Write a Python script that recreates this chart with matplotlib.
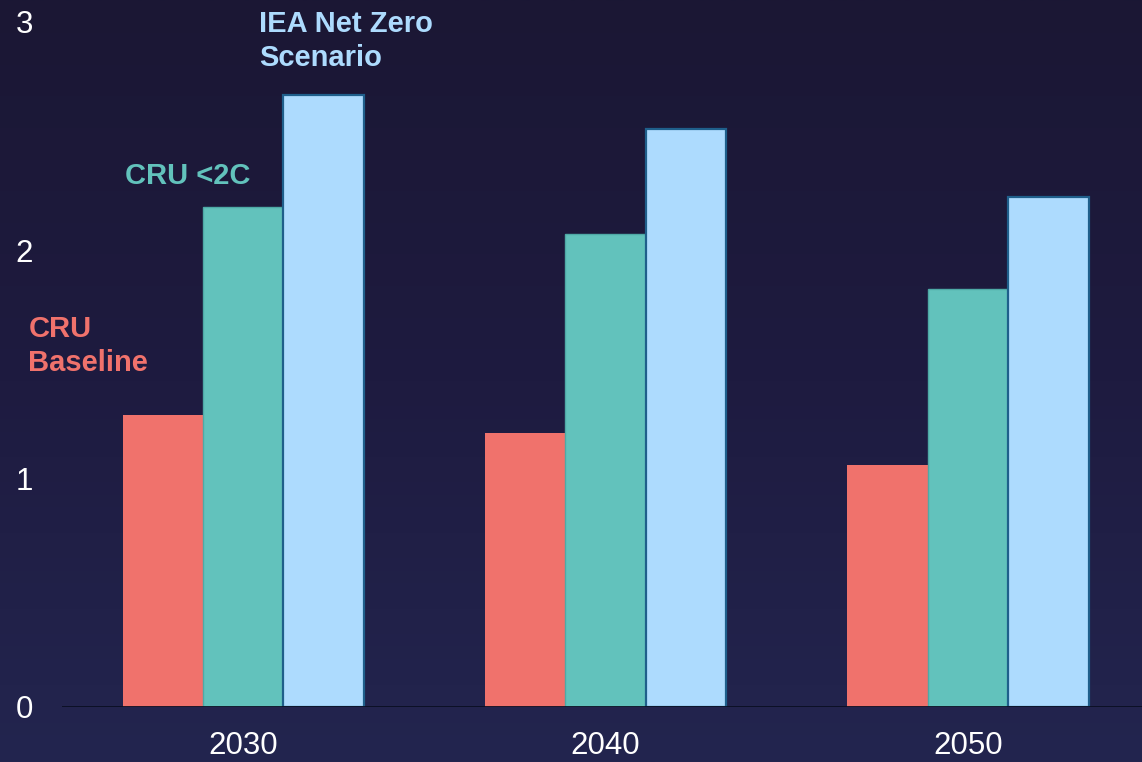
import numpy as np
import matplotlib.pyplot as plt
from matplotlib.colors import LinearSegmentedColormap

years = ['2030', '2040', '2050']
cru_baseline = [1.28, 1.20, 1.06]
cru_2c = [2.19, 2.07, 1.83]
iea_nz = [2.68, 2.53, 2.23]

red = '#F0726C'
teal = '#62C2BC'
blue = '#ADDBFE'

plt.rcParams['font.family'] = ['Liberation Sans', 'DejaVu Sans']

fig = plt.figure(figsize=(11.42, 7.62), dpi=100)

# background gradient
bg = fig.add_axes([0, 0, 1, 1], zorder=-10)
grad = np.linspace(0, 1, 256).reshape(-1, 1)
cmap = LinearSegmentedColormap.from_list('bg', ['#1b1734', '#1e1b40', '#23254f'])
bg.imshow(grad, aspect='auto', cmap=cmap, extent=[0, 1, 0, 1], origin='upper')
bg.axis('off')

ax = fig.add_axes([62 / 1142, 55 / 762, 1080 / 1142, 685.5 / 762])
ax.patch.set_alpha(0)

x = np.arange(len(years))
w = 0.222
ax.bar(x - w, cru_baseline, w, color=red, linewidth=0, zorder=2)
ax.bar(x, cru_2c, w, color=teal, edgecolor='#4ea9a6', linewidth=1, zorder=2)
ax.bar(x + w, iea_nz, w, color=blue, edgecolor='#1f5f8b', linewidth=1.6, zorder=2)
ax.axhline(0, color='#0a0e22', linewidth=2, zorder=3)

ax.set_xlim(-0.5, 2.48)
ax.set_ylim(0, 3)
ax.set_xticks(x)
ax.set_xticklabels(years)
ax.set_yticks([0, 1, 2, 3])
ax.tick_params(axis='both', length=0, labelsize=22.5, colors='white')
ax.tick_params(axis='y', pad=21)
ax.tick_params(axis='x', pad=17)
for s in ax.spines.values():
    s.set_visible(False)

ax.text(0.044, 2.915, 'IEA Net Zero\nScenario', color=blue, fontsize=21,
        fontweight='bold', ha='left', va='center', linespacing=1.25)
ax.text(-0.326, 2.325, 'CRU <2C', color=teal, fontsize=21,
        fontweight='bold', ha='left', va='center')
ax.text(-0.593, 1.58, 'CRU\nBaseline', color=red, fontsize=21,
        fontweight='bold', ha='left', va='center', linespacing=1.25)

fig.savefig('out.png', dpi=100)
